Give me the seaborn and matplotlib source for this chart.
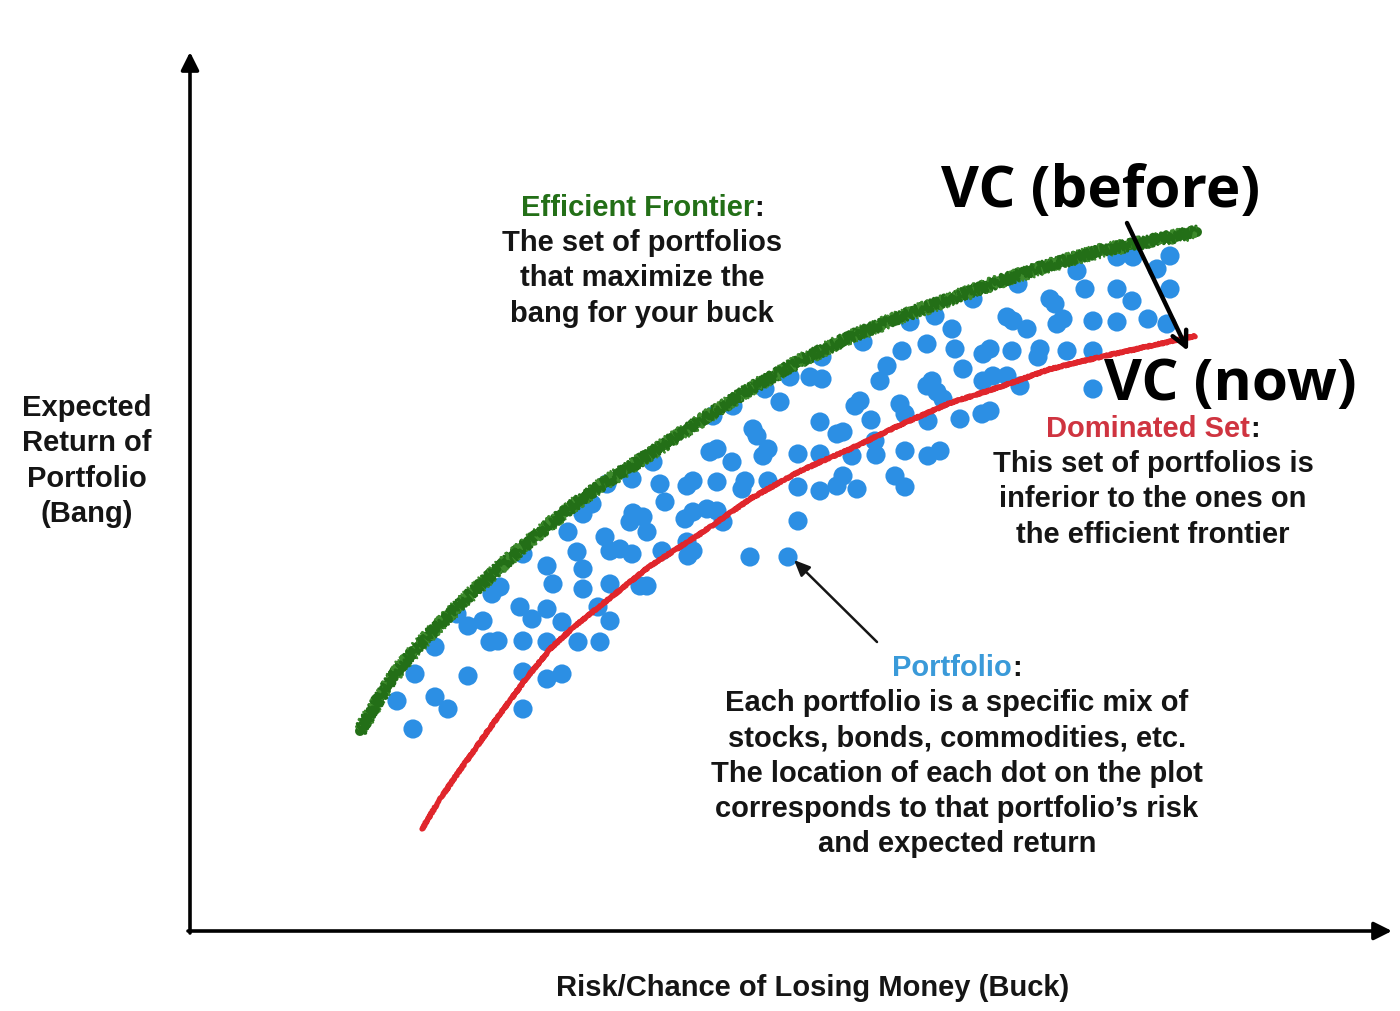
import matplotlib
matplotlib.use("Agg")
import matplotlib.pyplot as plt
import seaborn as sns
import numpy as np

sns.set_theme(style="white")
plt.rcParams['font.family'] = ['Liberation Sans', 'DejaVu Sans']

# ---------------- data (risk on x, return measured downward in image units) -------------
dot_risk = [397, 413, 415, 435, 435, 448, 457, 468, 468, 483,
            490, 498, 492, 500, 520, 523, 523, 523, 523, 532,
            547, 547, 547, 547, 553, 562, 562, 568, 577, 578,
            583, 583, 583, 592, 598, 600, 605, 607, 610, 610,
            610, 620, 632, 632, 630, 633, 643, 640, 647, 647,
            660, 665, 662,
            653, 687, 693, 717, 745, 742, 768, 798, 820, 837,
            843, 857, 685, 693, 707, 717, 723, 798, 687, 693,
            688, 750, 788, 710, 717, 732, 768, 763, 798, 820,
            852, 876, 753, 757, 820, 837, 843, 871, 860, 855,
            780, 733, 713, 765, 790, 810, 822, 822, 863,
            1170, 1133, 1117, 1157, 1170, 1077, 1018, 973, 1050, 1055,
            1085, 1117, 1132, 1148, 1167, 1117, 1093, 1063, 1057, 1007, 1013,
            1027, 935, 910, 952, 927, 902, 955, 983, 990, 1012,
            1040, 1038, 1067, 1093, 887, 880, 963, 932, 927, 937,
            983, 993, 1007, 1020, 1093, 900, 943, 875, 905, 928,
            960, 982, 990, 905, 928, 940, 895, 905]
dot_ret = [702, 730, 675, 648, 698, 710, 615, 627, 677, 622,
           643, 642, 595, 588, 608, 555, 642, 673, 710, 620,
           567, 610, 643, 680, 585, 623, 675, 533, 553, 643,
           515, 570, 590, 505, 608, 643, 538, 485, 552, 585,
           622, 550, 555, 480, 523, 514, 518, 587, 587, 533,
           485, 503, 552,
           463, 487, 482, 483, 482, 490, 482, 488, 492, 487,
           477, 490, 520, 513, 510, 512, 523, 522, 543, 552,
           557, 558, 558, 453, 450, 463, 450, 457, 455, 455,
           457, 456, 430, 437, 423, 435, 433, 421, 402, 407,
           403, 407, 417, 390, 378, 378, 380, 358, 343,
           257, 258, 258, 270, 290, 272, 285, 300, 300, 305,
           290, 290, 302, 320, 325, 323, 322, 320, 325, 318, 322,
           330, 317, 323, 330, 345, 352, 350, 355, 350, 352,
           350, 358, 352, 352, 367, 382, 370, 382, 387, 393,
           382, 377, 377, 387, 390, 405, 400, 442, 415, 422,
           420, 415, 412, 452, 457, 452, 477, 488]

frontier_risk = [360, 380, 400, 425, 450, 475, 500, 525, 550, 575, 600, 650, 700, 750, 800, 850, 900, 950,
                 1000, 1050, 1100, 1150, 1197]
frontier_ret = [732, 698, 668, 640, 615, 591, 568, 546, 525, 505, 487, 455, 422, 390, 362, 338, 318, 300,
                282, 266, 252, 242, 233]

dominated_risk = [422, 440, 460, 480, 500, 525, 550, 575, 600, 650, 700, 750, 800, 850, 900, 950, 1000, 1050,
                  1100, 1150, 1195]
dominated_ret = [830, 800, 771, 743, 715, 681, 650, 627, 607, 567, 535, 500, 472, 450, 426, 404, 388, 370,
                 358, 347, 337]

GREEN = '#236f17'
GREEN_LIGHT = '#3d8a2c'
RED = '#e0262c'
BLUE = '#2c8fe4'
RED_TXT = '#cf3440'
BLUE_TXT = '#3a9ad9'

fig = plt.figure(figsize=(14, 10.12), dpi=100)
ax = fig.add_axes([0, 0, 1, 1])
ax.set_xlim(0, 1400)
ax.set_ylim(1012, 0)
ax.axis('off')

sns.scatterplot(x=dot_risk, y=dot_ret, ax=ax, s=190, color=BLUE, edgecolor='none',
                linewidth=0, zorder=2, legend=False)

# efficient frontier: core stroke plus rough fuzzy strokes
sns.lineplot(x=frontier_risk, y=frontier_ret, sort=False, estimator=None, ax=ax,
             color=GREEN, lw=7.2, zorder=3, legend=False)
for lw, sc, ln, col in [(2.4, 6.0, 1.2, GREEN), (1.6, 7.0, 0.9, GREEN_LIGHT), (2.2, 5.5, 1.5, GREEN)]:
    sns.lineplot(x=frontier_risk, y=frontier_ret, sort=False, estimator=None, ax=ax,
                 color=col, lw=lw, zorder=3, legend=False)
    ax.lines[-1].set_sketch_params(sc, ln, 3.0)

sns.lineplot(x=dominated_risk, y=dominated_ret, sort=False, estimator=None, ax=ax,
             color=RED, lw=3.8, zorder=3, legend=False)
ax.lines[-1].set_sketch_params(0.7, 2.0, 2.0)

# axes arrows
ax.annotate('', xy=(190, 53), xytext=(190, 934),
            arrowprops=dict(arrowstyle='-|>,head_length=0.9,head_width=0.45', lw=2.6, color='black',
                            shrinkA=0, shrinkB=0))
ax.annotate('', xy=(1392, 932), xytext=(188, 932),
            arrowprops=dict(arrowstyle='-|>,head_length=0.9,head_width=0.45', lw=2.6, color='black',
                            shrinkA=0, shrinkB=0))

FS = 21
TXT = '#151515'
# y label
for i, line in enumerate(["Expected", "Return of", "Portfolio", "(Bang)"]):
    ax.text(87, 408 + i * 35.3, line, ha='center', va='center', fontsize=FS, fontweight='bold', color=TXT)
# x label
ax.text(813, 988, "Risk/Chance of Losing Money (Buck)", ha='center', va='center', fontsize=FS,
        fontweight='bold', color=TXT)


def titled_block(cx, y0, title, tcolor, lines, dy=35.2):
    t = ax.text(cx, y0, title, ha='right', va='center', fontsize=FS, fontweight='bold', color=tcolor)
    c = ax.annotate(':', xy=(1, 0), xycoords=t, ha='left', va='bottom', fontsize=FS,
                    fontweight='bold', color=TXT)
    fig.canvas.draw()
    r = fig.canvas.get_renderer()
    bt = t.get_window_extent(r)
    bc = c.get_window_extent(r)
    total = bt.width + bc.width
    inv = ax.transData.inverted()
    left_px = ax.transData.transform((cx, y0))[0] - total / 2
    new_x = inv.transform((left_px + bt.width, 0))[0]
    t.set_x(new_x)
    for i, line in enumerate(lines):
        ax.text(cx, y0 + (i + 1) * dy, line, ha='center', va='center', fontsize=FS,
                fontweight='bold', color=TXT)


titled_block(642, 208, "Efficient Frontier", GREEN,
             ["The set of portfolios", "that maximize the", "bang for your buck"])
titled_block(1153, 429, "Dominated Set", RED_TXT,
             ["This set of portfolios is", "inferior to the ones on", "the efficient frontier"])
titled_block(957, 668, "Portfolio", BLUE_TXT,
             ["Each portfolio is a specific mix of", "stocks, bonds, commodities, etc.",
              "The location of each dot on the plot", "corresponds to that portfolio\u2019s risk",
              "and expected return"])

# portfolio pointer arrow
ax.annotate('', xy=(794, 561), xytext=(877, 643),
            arrowprops=dict(arrowstyle='-|>,head_length=0.8,head_width=0.35', lw=1.8, color=TXT,
                            shrinkA=0, shrinkB=0))

# VC labels
ax.text(1101, 192, "VC (before)", ha='center', va='center', fontsize=42, fontweight='bold',
        color='black', family=['Open Sans', 'DejaVu Sans'])
ax.text(1230, 385, "VC (now)", ha='center', va='center', fontsize=42, fontweight='bold',
        color='black', family=['Open Sans', 'DejaVu Sans'])
ax.annotate('', xy=(1188, 352), xytext=(1127, 224),
            arrowprops=dict(arrowstyle='->,head_length=0.9,head_width=0.45', lw=3.2, color='black',
                            shrinkA=0, shrinkB=0))

fig.savefig('out.png', dpi=100, facecolor='white')
